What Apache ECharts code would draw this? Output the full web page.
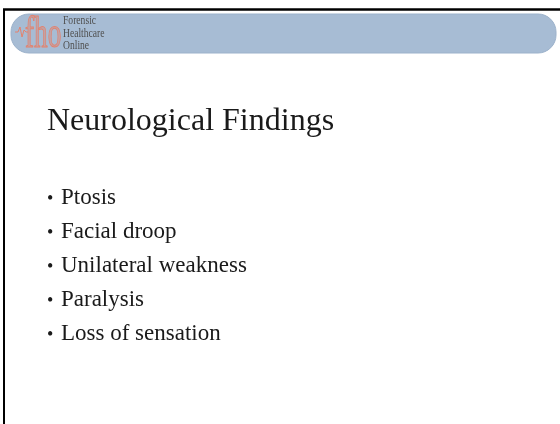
<!DOCTYPE html>
<html>
<head>
<meta charset="utf-8">
<script src="https://cdn.jsdelivr.net/npm/echarts@6/dist/echarts.min.js"></script>
<style>
  html, body { margin: 0; padding: 0; background: #fff; }
  #main { width: 560px; height: 424px; }
</style>
</head>
<body>
<div id="main"></div>
<script>
// slide content
var title = 'Neurological Findings'
var bullets = ['Ptosis', 'Facial droop', 'Unilateral weakness', 'Paralysis', 'Loss of sensation']
var logoLines = ['Forensic', 'Healthcare', 'Online']

var serif = '"Liberation Serif", "DejaVu Serif", serif'
var salmon = '#e3826e'

var chart = echarts.init(document.getElementById('main'), null, { renderer: 'canvas' })

var elements = [
  // slide frame (left + top edges)
  { type: 'line', shape: { x1: 4, y1: 9, x2: 4, y2: 424 }, style: { stroke: '#000', lineWidth: 2 } },
  { type: 'line', shape: { x1: 3, y1: 9.5, x2: 560, y2: 9.5 }, style: { stroke: '#000', lineWidth: 2.5 } },
  // header banner
  {
    type: 'rect',
    shape: { x: 11, y: 14, width: 545, height: 39, r: 18 },
    style: { fill: '#a7bcd4', stroke: '#9cb2cb', lineWidth: 1 }
  },
  // logo heartbeat
  {
    type: 'polyline',
    shape: { points: [[15, 32], [18, 32], [20, 27], [22, 37], [24, 30], [26, 32], [28, 32]] },
    style: { stroke: salmon, lineWidth: 1, fill: null }
  },
  // logo letters
  {
    type: 'text',
    x: 25, y: 35,
    scaleX: 0.62,
    style: {
      text: 'fho', font: '44px ' + serif,
      fill: 'rgba(227,130,110,0.45)', stroke: salmon, lineWidth: 1,
      textVerticalAlign: 'middle'
    }
  }
]

logoLines.forEach(function (t, i) {
  elements.push({
    type: 'text',
    x: 63, y: 21 + i * 12.5,
    scaleX: 0.8,
    style: { text: t, font: '12px ' + serif, fill: '#4f4f4f', textVerticalAlign: 'middle' }
  })
})

elements.push({
  type: 'text',
  x: 47, y: 122,
  style: { text: title, font: '32px ' + serif, fill: '#1a1a1a', textVerticalAlign: 'middle' }
})

bullets.forEach(function (t, i) {
  var y = 198 + i * 34
  elements.push({
    type: 'text',
    x: 47, y: y + 1,
    style: { text: '•', font: '18px ' + serif, fill: '#1a1a1a', textVerticalAlign: 'middle' }
  })
  elements.push({
    type: 'text',
    x: 61, y: y,
    style: { text: t, font: '23px ' + serif, fill: '#1a1a1a', textVerticalAlign: 'middle' }
  })
})

chart.setOption({
  backgroundColor: '#fff',
  animation: false,
  graphic: { elements: elements }
})
</script>
</body>
</html>
